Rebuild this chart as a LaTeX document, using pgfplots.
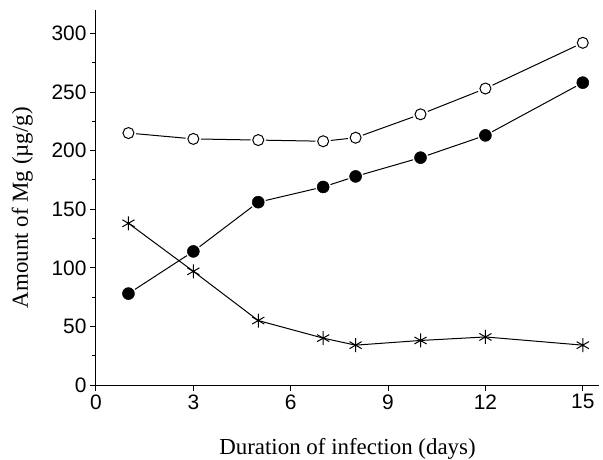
\documentclass[border=0pt]{standalone}
\usepackage{fontspec}
\setmainfont{Liberation Serif}
\newfontfamily\arial{Liberation Sans}
\usepackage{pgfplots}
\pgfplotsset{compat=1.18}
\begin{document}
\begin{tikzpicture}
\begin{axis}[
  scale only axis,
  width=503bp, height=375bp,
  xmin=0, xmax=15.5, ymin=0, ymax=320,
  axis x line*=bottom, axis y line*=left,
  axis line style={line width=1bp},
  xtick={0,3,6,9,12,15},
  ytick={0,50,100,150,200,250,300},
  minor y tick num=1,
  tick align=outside,
  major tick length=6bp, minor tick length=4bp,
  tick style={line width=1bp, black},
  /pgf/number format/assume math mode=true,
  ticklabel style={font=\arial\fontsize{21}{25}\selectfont},
  label style={font=\fontsize{23}{27}\selectfont},
  xlabel={Duration of infection (days)},
  ylabel={Amount of Mg (µg/g)},
  xlabel style={at={(axis description cs:0.5,0)}, anchor=base, inner sep=0pt, yshift=-69bp},
  ylabel style={at={(axis description cs:0,0.473)}, anchor=south, inner sep=0pt, yshift=63bp},
  clip=false,
]
% lines
\addplot[line width=1bp, black] coordinates {(1,215)(3,210)(5,209)(7,208)(8,211)(10,231)(12,253)(15,292)};
\addplot[line width=1bp, black] coordinates {(1,78)(3,114)(5,156)(7,169)(8,178)(10,194)(12,213)(15,258)};
\addplot[line width=1bp, black] coordinates {(1,138)(3,97)(5,55)(7,40)(8,34)(10,38)(12,41)(15,34)};
% halos
\addplot[only marks, mark=*, mark size=7.5bp, white, mark options={draw=white, fill=white}] coordinates {(1,215)(3,210)(5,209)(7,208)(8,211)(10,231)(12,253)(15,292)};
\addplot[only marks, mark=*, mark size=7.5bp, white, mark options={draw=white, fill=white}] coordinates {(1,78)(3,114)(5,156)(7,169)(8,178)(10,194)(12,213)(15,258)};
% marks
\addplot[only marks, mark=o, mark size=5.5bp, black, mark options={line width=1bp, fill=white}] coordinates {(1,215)(3,210)(5,209)(7,208)(8,211)(10,231)(12,253)(15,292)};
\addplot[only marks, mark=*, mark size=6bp, black, mark options={line width=0.5bp, fill=black}] coordinates {(1,78)(3,114)(5,156)(7,169)(8,178)(10,194)(12,213)(15,258)};
\addplot[only marks, mark=asterisk, mark size=7bp, black, mark options={line width=1bp}] coordinates {(1,138)(3,97)(5,55)(7,40)(8,34)(10,38)(12,41)(15,34)};
\end{axis}
\pgfresetboundingbox
\path[use as bounding box] (-96bp,-75bp) rectangle (507bp,385bp);
\end{tikzpicture}
\end{document}
